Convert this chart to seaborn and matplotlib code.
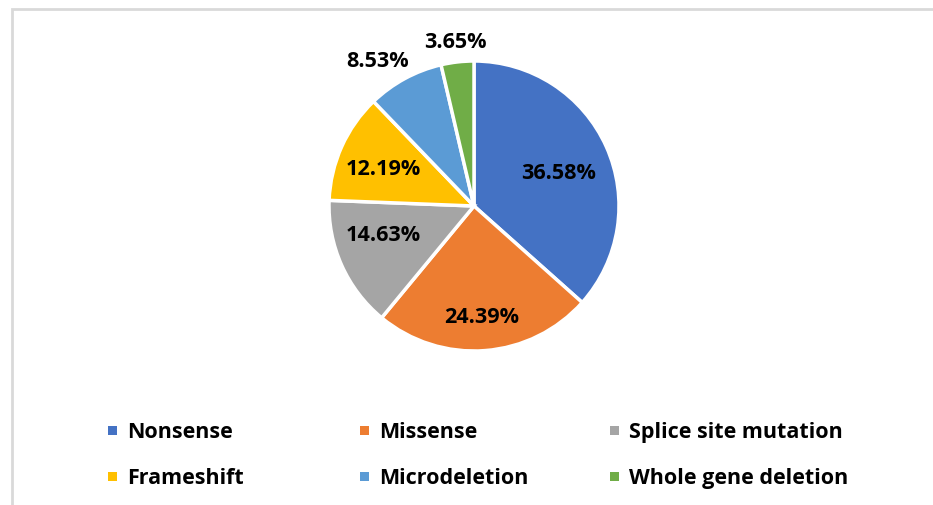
import numpy as np
import matplotlib
matplotlib.use("Agg")
import matplotlib.pyplot as plt
from matplotlib.patches import Rectangle
import seaborn as sns

categories = ["Nonsense", "Missense", "Splice site mutation",
              "Frameshift", "Microdeletion", "Whole gene deletion"]
values = [36.58, 24.39, 14.63, 12.19, 8.53, 3.65]
pct_labels = ["36.58%", "24.39%", "14.63%", "12.19%", "8.53%", "3.65%"]

colors = sns.color_palette(["#4472C4", "#ED7D31", "#A5A5A5",
                            "#FFC000", "#5B9BD5", "#70AD47"])
# label placement style (relative radius, angular nudge in degrees)
label_dist = [0.63, 0.764, 0.658, 0.677, 1.20, 1.139]
label_nudge = [-2.7, -0.3, -6.8, 2.0, 5.0, -0.1]

sns.set_theme(style="white")
plt.rcParams["font.family"] = ["Open Sans", "DejaVu Sans"]

W, H = 933, 506
fig = plt.figure(figsize=(W / 100, H / 100), dpi=100)
fig.patch.set_facecolor("white")

# light frame
fig.add_artist(Rectangle((11.5 / W, -0.1), 1.2, (H - 9.5) / H + 0.1,
                         transform=fig.transFigure, fill=False,
                         edgecolor="#d9d9d9", linewidth=2))

cx, cy, R = 474, 207, 145
ax = fig.add_axes([(cx - R) / W, (H - cy - R) / H, 2 * R / W, 2 * R / H])
wedges, _ = ax.pie(values, colors=colors, startangle=90, counterclock=False,
                   radius=1, wedgeprops=dict(edgecolor="white", linewidth=2.5))
ax.set_xlim(-1, 1)
ax.set_ylim(-1, 1)
ax.set_aspect("equal")
ax.axis("off")

for w, lab, d, nd in zip(wedges, pct_labels, label_dist, label_nudge):
    ang = np.deg2rad((w.theta1 + w.theta2) / 2 + nd)
    ax.text(d * np.cos(ang), d * np.sin(ang), lab, ha="center", va="center",
            fontsize=15.6, fontweight="bold", color="black", clip_on=False)

col_x = [108, 360, 610]
row_y = [431, 477]
for i, (cat, col) in enumerate(zip(categories, colors)):
    r, c = divmod(i, 3)
    x, y = col_x[c], row_y[r]
    fig.add_artist(Rectangle((x / W, (H - y - 4.5) / H), 9 / W, 9 / H,
                             transform=fig.transFigure, facecolor=col,
                             edgecolor="none"))
    fig.text((x + 19) / W, (H - y - 1.5) / H, cat, ha="left", va="center",
             fontsize=15.5, fontweight="bold", color="black")

fig.savefig("out.png", dpi=100, facecolor="white")
